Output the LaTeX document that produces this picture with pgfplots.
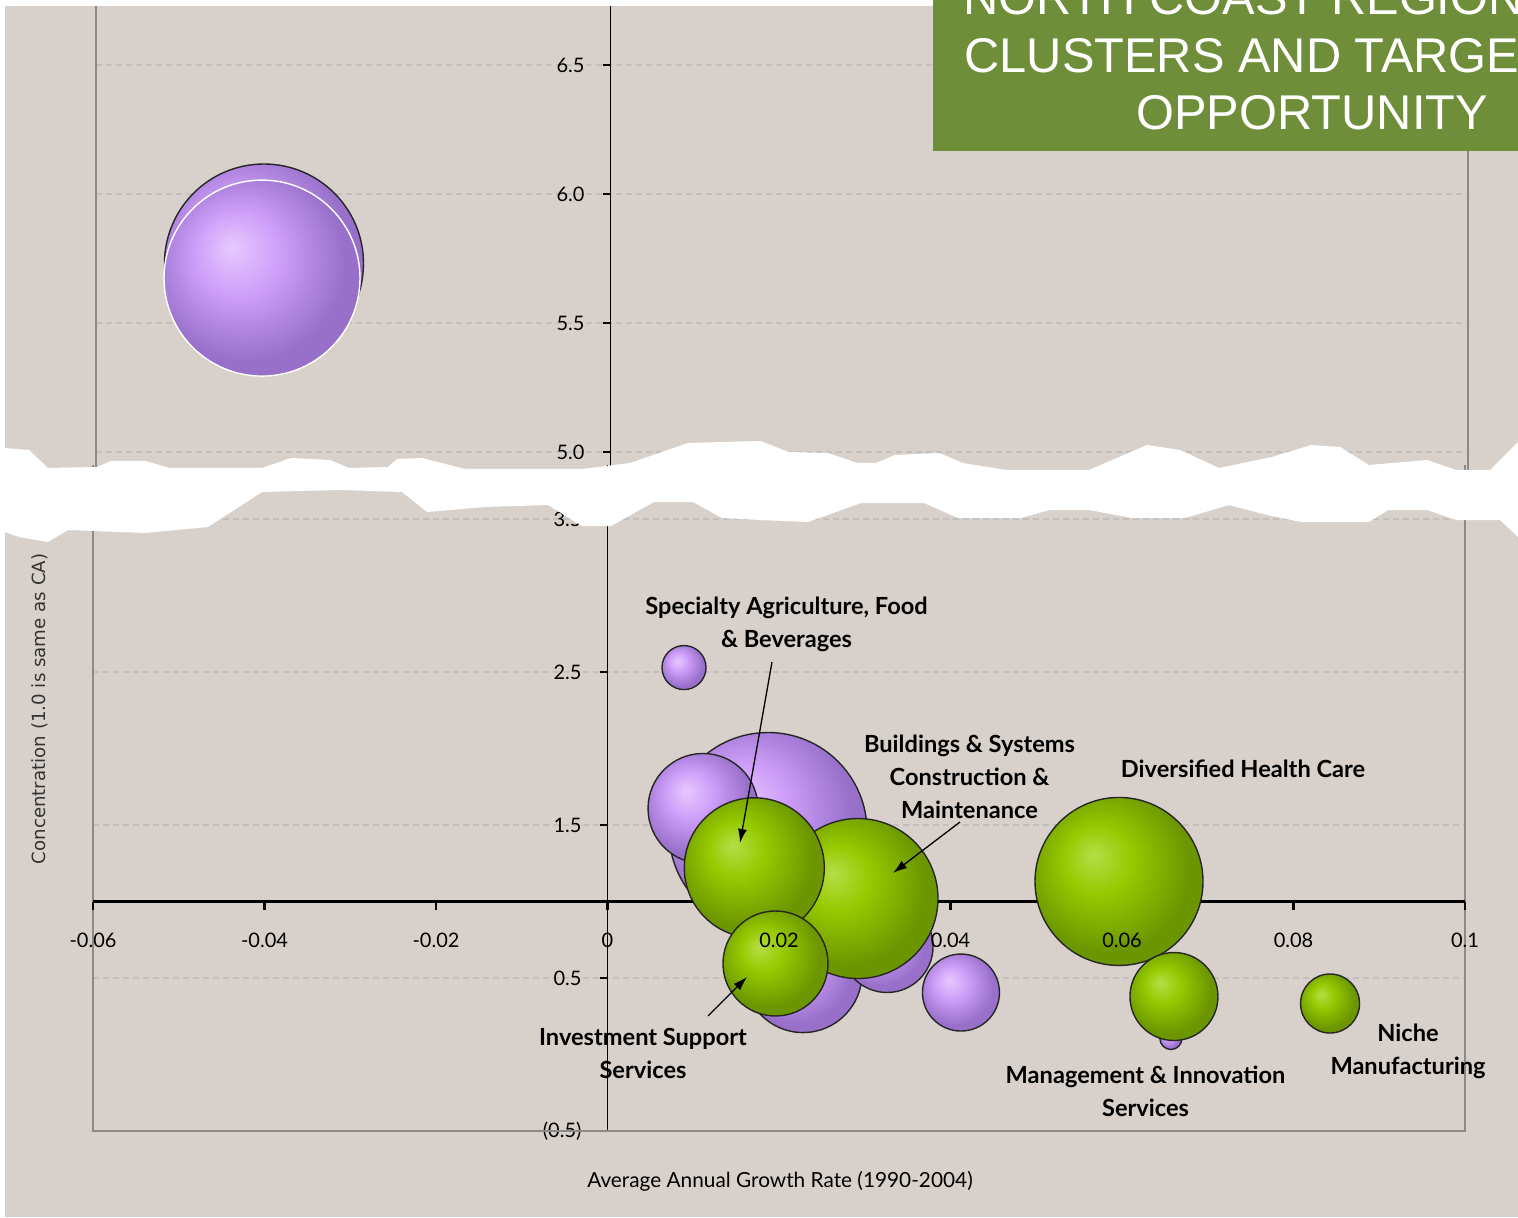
\documentclass[border=0pt]{standalone}
\usepackage{pgfplots}
\pgfplotsset{compat=1.18}
\usepackage{pgfplotstable}
\usepackage{fontspec}
\usetikzlibrary{arrows.meta}
\setmainfont{Lato}
\newfontfamily\titlefont{Liberation Sans}
\newfontfamily\ylabfont{DejaVu Sans}

\definecolor{bg}{RGB}{216,209,203}
\definecolor{titlegreen}{RGB}{110,142,58}
\definecolor{gridc}{RGB}{194,191,188}
\definecolor{boxc}{RGB}{140,138,136}
\definecolor{gA}{RGB}{180,222,72}
\definecolor{gB}{RGB}{150,202,0}
\definecolor{gC}{RGB}{108,150,0}
\definecolor{pA}{RGB}{232,200,255}
\definecolor{pB}{RGB}{205,158,248}
\definecolor{pC}{RGB}{152,112,202}

\pgfdeclareradialshading{greenball}{\pgfpoint{-8bp}{8bp}}{%
  color(0bp)=(gA); color(10bp)=(gB); color(25bp)=(gC); color(50bp)=(gC)}
\pgfdeclareradialshading{purpleball}{\pgfpoint{-8bp}{8bp}}{%
  color(0bp)=(pA); color(11bp)=(pB); color(25bp)=(pC); color(50bp)=(pC)}

\pgfdeclareplotmark{gball}{%
  \pgfpathcircle{\pgfpointorigin}{\pgfplotmarksize}%
  \pgfshadepath{greenball}{0}%
  \pgfpathcircle{\pgfpointorigin}{\pgfplotmarksize}%
  \pgfusepathqstroke}
\pgfdeclareplotmark{pball}{%
  \pgfpathcircle{\pgfpointorigin}{\pgfplotmarksize}%
  \pgfshadepath{purpleball}{0}%
  \pgfpathcircle{\pgfpointorigin}{\pgfplotmarksize}%
  \pgfusepathqstroke}

\pgfplotsset{
  bubble/.style={scatter, only marks, line width=0.7pt,
    scatter/use mapped color={draw=#1},
    visualization depends on={\thisrow{r}\as\rr},
    scatter/@pre marker code/.append style={/tikz/mark size=\rr}},
  bubble/.default={black!85},
  brokenaxis/.style={scale only axis, width=686pt,
    xmin=-0.06, xmax=0.1,
    axis x line=none, axis y line=middle,
    y axis line style={-, black, line width=0.9pt},
    ymajorgrids, grid style={gridc, dash pattern=on 3pt off 2pt, line width=0.6pt},
    ytick style={black, line width=0.9pt},
    major tick length=4pt, tick align=outside,
    yticklabel style={font=\fontsize{10}{11}\selectfont, anchor=east, xshift=-5.5pt},
    clip=false}
}

% bubble data: x = growth rate, y = concentration, r = bubble radius (pt)
\pgfplotstableread{
x        y       r
-0.04041 5.7306  49.75
}\purpleupA
\pgfplotstableread{
x        y       r
-0.04064 5.674   49
}\purpleupB
\pgfplotstableread{
x        y       r
0.01872  1.4575  49.5
0.0228   0.529   29.5
0.01114  1.608   27.5
0.0326   0.706   23
0.04122  0.405   19.25
0.00892  2.529   11
0.0657   0.1046  5.5
}\purplelow
\pgfplotstableread{
x        y       r
0.05965  1.131   42
0.02921  1.0196  40
0.01712  1.2203  35
0.01959  0.5948  26.25
0.06606  0.379   22
0.08426  0.3333  14.75
}\greenlow

\begin{document}
\begin{tikzpicture}
\useasboundingbox (0,0) rectangle (759pt,608.5pt);
\clip (0,0) rectangle (759pt,608.5pt);
\fill[white] (0,0) rectangle (759pt,608.5pt);
\fill[bg] (2.5pt,0) rectangle (759pt,605.5pt);

% ---------- lower panel ----------
\begin{axis}[brokenaxis, at={(46.5pt,43pt)}, anchor=south west,
  height=332.775pt, ymin=-0.5, ymax=3.85,
  ytick={-0.5,0.5,1.5,2.5,3.5},
  yticklabels={(0.5),0.5,1.5,2.5,3.5}]
  \draw[boxc, line width=0.8pt] (rel axis cs:0,1) -- (rel axis cs:0,0) -- (rel axis cs:1,0) -- (rel axis cs:1,1);
  \draw[black, line width=1.5pt] (axis cs:-0.06,1) -- (axis cs:0.1,1);
  \pgfplotsinvokeforeach{-0.06,-0.04,-0.02,0,0.02,0.04,0.06,0.08,0.1}{%
    \draw[black, line width=1.2pt] (axis cs:#1,1) -- ++(0pt,-4pt);}
  \addplot[bubble, mark=pball] table[x=x, y=y] {\purplelow};
  \addplot[bubble, mark=gball] table[x=x, y=y] {\greenlow};
\end{axis}

% x tick labels of the axis crossing at 1.0
\begin{axis}[at={(46.5pt,157.75pt)}, anchor=south west, scale only axis,
  width=686pt, height=10pt, xmin=-0.06, xmax=0.1, ymin=0, ymax=1,
  axis x line=bottom, axis y line=none,
  x axis line style={draw=none}, xtick style={draw=none},
  xtick={-0.06,-0.04,-0.02,0,0.02,0.04,0.06,0.08,0.1},
  xticklabels={-0.06,-0.04,-0.02,0,0.02,0.04,0.06,0.08,0.1},
  xticklabel style={font=\fontsize{10}{11}\selectfont, anchor=north, yshift=-10pt}]
\end{axis}

% ---------- upper panel ----------
\begin{axis}[brokenaxis, at={(48pt,373.47pt)}, anchor=south west,
  height=232.2pt, ymin=4.93, ymax=6.73,
  ytick={5,5.5,6,6.5},
  yticklabels={5.0,5.5,6.0,6.5}]
  \draw[boxc, line width=0.6pt] (rel axis cs:0,0) -- (rel axis cs:0,1);
  \draw[boxc, line width=0.6pt] (rel axis cs:1,0) -- (rel axis cs:1,1);
  \addplot[bubble, mark=pball] table[x=x, y=y] {\purpleupA};
  \addplot[bubble=white, mark=pball] table[x=x, y=y] {\purpleupB};
\end{axis}

% ---------- decorations in pixel units ----------
\begin{scope}[x=0.5pt, y=-0.5pt, shift={(0pt,608.5pt)}]
  % torn break
  \fill[white] (-5,448) -- (5,448) -- (29,450) -- (48,468) -- (97,467) -- (111,461) -- (145,461)
    -- (170,468) -- (262,468) -- (291,458) -- (330,460) -- (349,468) -- (388,467) -- (397,459)
    -- (422,458) -- (465,469) -- (582,469) -- (630,463) -- (688,443) -- (760,441) -- (789,452)
    -- (828,453) -- (857,463) -- (876,463) -- (895,455) -- (939,453) -- (963,463) -- (1006,470)
    -- (1089,470) -- (1147,445) -- (1180,450) -- (1219,468) -- (1272,457) -- (1311,445)
    -- (1340,447) -- (1369,465) -- (1427,460) -- (1456,470) -- (1490,470) -- (1518,442) -- (1525,442)
    -- (1525,537) -- (1518,537) -- (1500,520) -- (1456,520) -- (1427,510) -- (1388,510) -- (1369,522)
    -- (1301,522) -- (1267,515) -- (1229,505) -- (1185,518) -- (1132,518) -- (1089,510) -- (1050,510)
    -- (1021,518) -- (958,518) -- (924,503) -- (861,503) -- (808,522) -- (760,520) -- (722,518)
    -- (693,502) -- (654,502) -- (611,526) -- (582,526) -- (548,505) -- (485,507) -- (427,512)
    -- (402,492) -- (339,490) -- (262,492) -- (208,527) -- (145,533) -- (68,530) -- (48,542)
    -- (19,537) -- (5,532) -- (-5,532) -- cycle;

  % axis titles
  \node[font=\fontsize{10.4}{12}\selectfont] at (780,1181) {Average Annual Growth Rate (1990-2004)};
  \node[font=\fontsize{9.1}{10}\ylabfont, rotate=90, text=black!80] at (40,709) {Concentration (1.0 is same as CA)};

  % bubble labels
  \begin{scope}[every node/.style={font=\fontsize{11.8}{16.5}\selectfont\bfseries, align=center, inner sep=0pt}]
    \node at (786.5,624) {Specialty Agriculture, Food\\\& Beverages};
    \node at (969.5,777) {Buildings \& Systems\\Construction \&\\Maintenance};
    \node at (1243,769) {Diversified Health Care};
    \node at (643,1053) {Investment Support\\Services};
    \node at (1145.5,1091) {Management \& Innovation\\Services};
    \node at (1408,1051) {Niche\\Manufacturing};
  \end{scope}
  \begin{scope}[line width=0.65pt, -{Latex[length=7pt,width=4.5pt]}]
    \draw (772,662) -- (740,843);
    \draw (960,822) -- (893,873);
    \draw (708,1016) -- (747,977);
  \end{scope}

  % title box
  \fill[titlegreen] (933,-5) rectangle (1525,151);
  \begin{scope}[every node/.style={font=\fontsize{24.4}{28}\titlefont, text=white, anchor=base west, inner sep=0pt}]
    \node at (963,15) {NORTH COAST REGION};
    \node at (964,72.5) {CLUSTERS AND TARGET};
    \node at (1136,130) {OPPORTUNITY};
  \end{scope}
\end{scope}
\end{tikzpicture}
\end{document}
